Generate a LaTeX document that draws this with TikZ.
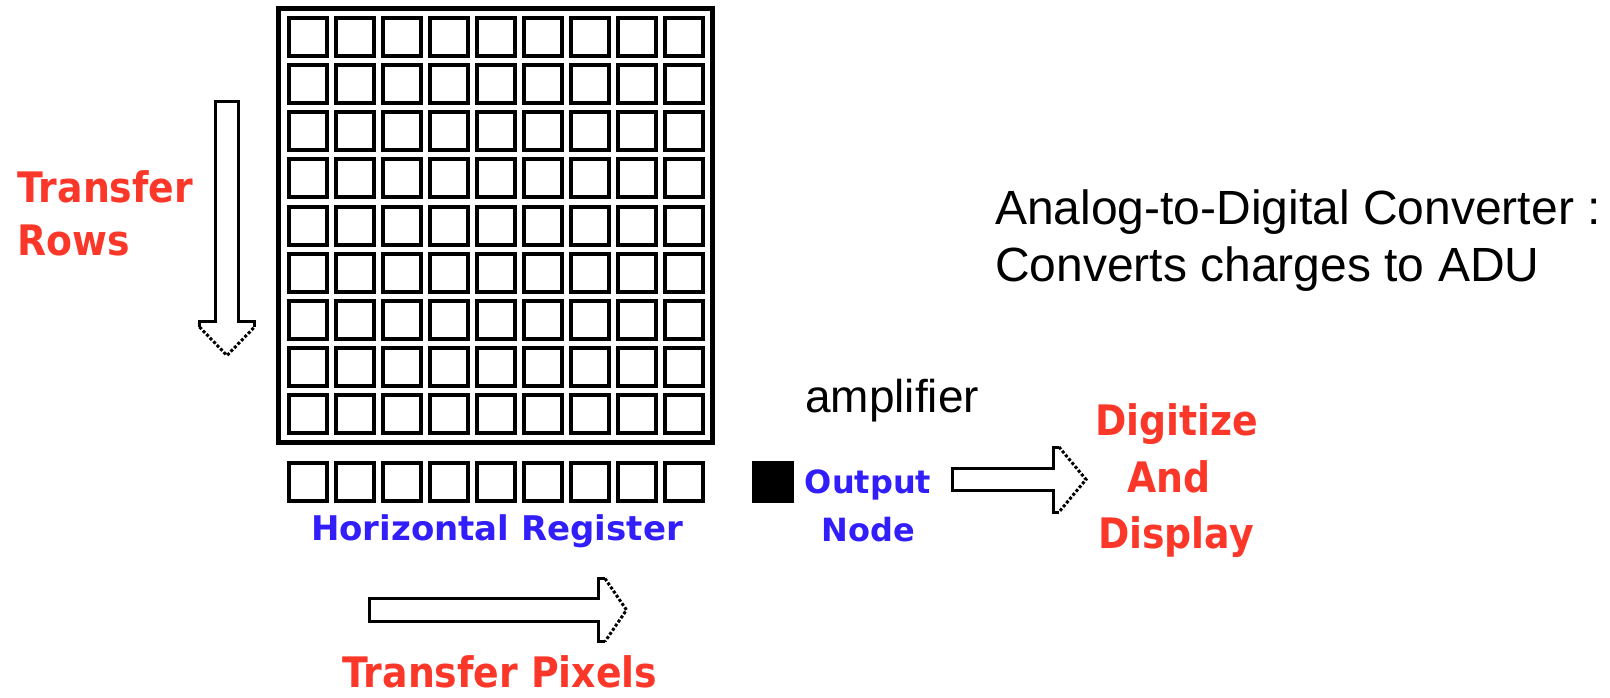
\documentclass[tikz,border=0pt]{standalone}
\usepackage{fontspec}
\setmainfont{Liberation Sans}
\newfontfamily\pixfont{DejaVu Sans}[FakeStretch=0.9]
\newfontfamily\pixwide{DejaVu Sans}
\definecolor{ccdred}{RGB}{250,55,40}
\definecolor{ccdblue}{RGB}{50,30,250}
\tikzset{
	cell/.style={line width=4pt},
	frame/.style={line width=5pt},
	outline/.style={line width=3pt},
	headdots/.style={line width=3pt,dash pattern=on 3pt off 2pt},
	redlabel/.style={inner sep=0pt,text=ccdred,font=\pixfont\bfseries\fontsize{42}{42}\selectfont},
	bluelabel/.style={inner sep=0pt,text=ccdblue,font=\pixwide\bfseries\fontsize{#1}{#1}\selectfont},
	blacklabel/.style={inner sep=0pt,font=\fontsize{#1}{#1}\selectfont}
}

\begin{document}
\begin{tikzpicture}[x=1pt,y=-1pt]
		\useasboundingbox (0,0) rectangle (1610,698);
		\draw[frame] (278.5,8.5) rectangle (712.5,442.5);
		\foreach \i in {0,...,8}
			\foreach \j in {0,...,8}
				\draw[cell] ({288.5+47*\i},{18.5+47*\j}) rectangle ++(38,38);
		\foreach \i in {0,...,8}
			\draw[cell] ({288.5+47*\i},462.7) rectangle ++(38,38);
		\node[fill=black,minimum size=42pt,inner sep=0pt] (amp) at (773,482) {};
		% block arrows
		\draw[outline] (199.5,327) -- (199.5,321.5) -- (215.5,321.5) -- (215.5,101.5) -- (238.5,101.5) -- (238.5,321.5) -- (254.5,321.5) -- (254.5,327);
		\draw[headdots] (199.5,327) -- (227,355.5) -- (254.5,327);
		\draw[outline] (605,578.5) -- (598.5,578.5) -- (598.5,598.5) -- (369.5,598.5) -- (369.5,621.5) -- (598.5,621.5) -- (598.5,641.5) -- (605,641.5);
		\draw[headdots] (605,578.5) -- (626.5,610) -- (605,641.5);
		\draw[outline] (1059,447) -- (1053,447) -- (1053,468.5) -- (952,468.5) -- (952,490.5) -- (1053,490.5) -- (1053,512) -- (1059,512);
		\draw[headdots] (1059,447) -- (1086,479.5) -- (1059,512);
		% labels
		\node[redlabel,anchor=base west] (rows1) at (17,202) {Transfer};
		\node[redlabel,anchor=base west] (rows2) at (17,255) {Rows};
		\node[redlabel,anchor=base west] (pixels) at (342,687) {Transfer Pixels};
		\node[bluelabel=34,anchor=base] (hreg) at (497,540) {Horizontal Register};
		\node[bluelabel=32,anchor=base] (out1) at (868,493) {Output};
		\node[bluelabel=32,anchor=base] (out2) at (868,541) {Node};
		\node[redlabel,anchor=base] (disp1) at (1177,435) {Digitize};
		\node[redlabel,anchor=base] (disp2) at (1169,492) {And};
		\node[redlabel,anchor=base] (disp3) at (1176,548) {Display};
		\node[blacklabel=46,anchor=base west] (ampname) at (805,412) {amplifier};
		\node[blacklabel=48,anchor=base west] (adc1) at (995,225) {Analog-to-Digital Converter :};
		\node[blacklabel=48,anchor=base west] (adc2) at (995,281) {Converts charges to ADU};
\end{tikzpicture}
\end{document}
